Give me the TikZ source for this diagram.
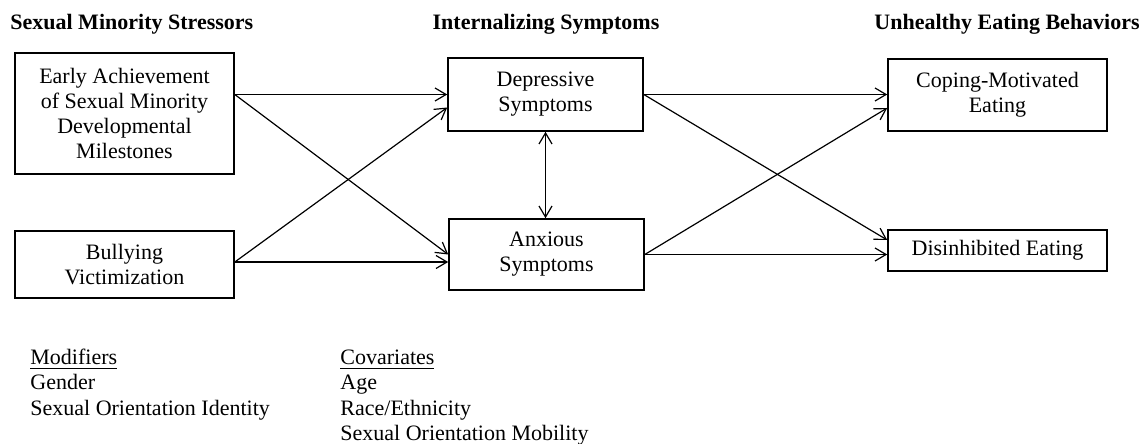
\documentclass[tikz,border=0pt]{standalone}
\usepackage{fontspec}
\setmainfont{Liberation Serif}
\usepackage{tikz}
\usetikzlibrary{arrows.meta}

\begin{document}
\begin{tikzpicture}[x=0.5bp, y=-0.5bp,
    >={Straight Barb[length=5.5bp, width=6.5bp]},
    every node/.style={font=\fontsize{11bp}{12.5bp}\selectfont},
    box/.style={draw, line width=0.8bp, align=center, inner sep=2bp},
    title/.style={anchor=base west, inner sep=0pt, font=\fontsize{11bp}{12.5bp}\selectfont\bfseries},
    txt/.style={anchor=base west, inner sep=0pt},
    path/.style={->, line width=0.6bp}]
    \useasboundingbox (0,0) rectangle (1145,444);
    % Titres
    \node[title] (t1) at (10,30) {Sexual Minority Stressors};
    \node[title, anchor=base] (t2) at (546,30) {Internalizing Symptoms};
    \node[title] (t3) at (874,30) {Unhealthy Eating Behaviors};
    % Stresseurs
    \node[box, minimum width=109.5bp, minimum height=60.5bp] (early) at (124.5,113.5) {Early Achievement\\of Sexual Minority\\Developmental\\Milestones};
    \node[box, minimum width=109.5bp, minimum height=33.5bp] (bully) at (124.5,264.5) {Bullying\\Victimization};
    % Symptomes
    \node[box, minimum width=97.5bp, minimum height=36.5bp] (dep) at (545.5,94.5) {Depressive\\Symptoms};
    \node[box, minimum width=97.5bp, minimum height=35.5bp] (anx) at (546.5,254.5) {Anxious\\Symptoms};
    % Comportements
    \node[box, minimum width=109.5bp, minimum height=36bp] (cope) at (997.5,95) {Coping-Motivated\\Eating};
    \node[box, minimum width=109.5bp, minimum height=20.5bp] (dis) at (997.5,250.5) {Disinhibited Eating};
    % Points d'arrivee
    \coordinate (deplow) at ([yshift=-6.5bp]dep.west);
    \coordinate (anxlow) at ([yshift=-3.75bp]anx.west);
    \coordinate (copelow) at ([yshift=-6.5bp]cope.west);
    \coordinate (dishigh) at ([yshift=5.25bp]dis.west);
    % Fleches gauche
    \draw[path] (early.east |- dep.west) -- (dep.west);
    \draw[path] (early.east |- dep.west) -- (anx.west);
    \draw[path] (bully.east |- anxlow) -- (anxlow);
    \draw[path] (bully.east |- anxlow) -- (deplow);
    % Covariance
    \draw[<->, line width=0.6bp] (dep.south) -- (dep.south |- anx.north);
    % Fleches droite
    \draw[path] (dep.east) -- (dep.east -| cope.west);
    \draw[path] (dep.east) -- (dishigh);
    \draw[path] (anx.east) -- (anx.east -| dis.west);
    \draw[path] (anx.east) -- (copelow);
    % Moderateurs et covariables
    \node[txt] (mod) at (30,365) {\underline{Modifiers}};
    \node[txt] (mod1) at (30,390) {Gender};
    \node[txt] (mod2) at (30,415) {Sexual Orientation Identity};
    \node[txt] (cov) at (340,365) {\underline{Covariates}};
    \node[txt] (cov1) at (340,390) {Age};
    \node[txt] (cov2) at (340,415) {Race/Ethnicity};
    \node[txt] (cov3) at (340,440) {Sexual Orientation Mobility};
\end{tikzpicture}
\end{document}
